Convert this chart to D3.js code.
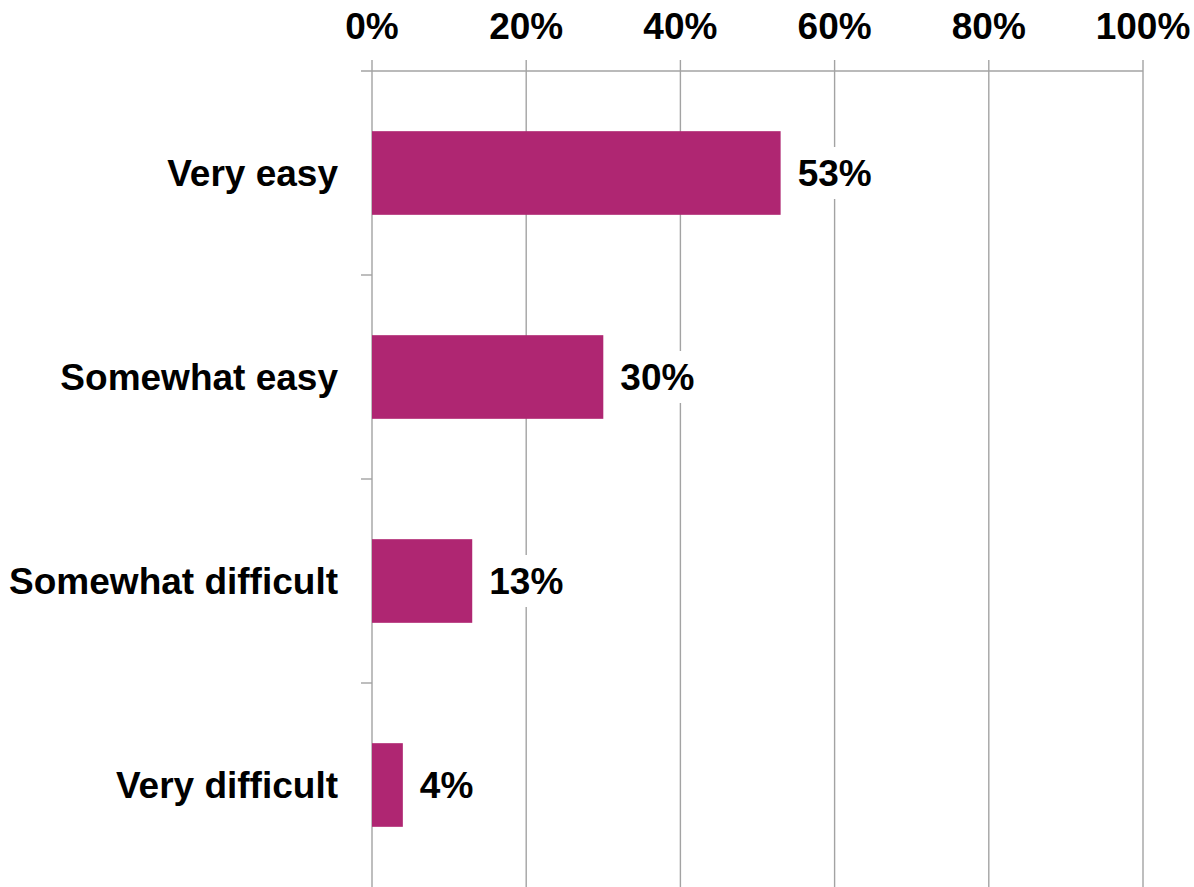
<!DOCTYPE html>
<html>
<head>
<meta charset="utf-8">
<script src="https://cdn.jsdelivr.net/npm/d3@7"></script>
<style>
  html, body { margin: 0; padding: 0; background: #fff; }
  svg { display: block; }
  text { font-family: "Liberation Sans", Arial, sans-serif; font-weight: bold; fill: #000; }
</style>
</head>
<body>
<svg id="chart" width="1194" height="887"></svg>
<script>
const categories = ["Very easy", "Somewhat easy", "Somewhat difficult", "Very difficult"];
const values = [53, 30, 13, 4];
const tickValues = [0, 20, 40, 60, 80, 100];

const W = 1194, H = 887;
const margin = { top: 71, right: 51, bottom: 0, left: 372 };
const barColor = "#af2672";
const gridColor = "#a3a3a3";
const fontSize = 37;

const svg = d3.select("#chart");

const x = d3.scaleLinear().domain([0, 100]).range([margin.left, W - margin.right]);
const y = d3.scaleBand().domain(categories).range([margin.top, H - margin.bottom])
  .paddingInner(0.59).paddingOuter(0.295);

// vertical gridlines
svg.append("g").selectAll("line").data(tickValues).join("line")
  .attr("x1", d => x(d)).attr("x2", d => x(d))
  .attr("y1", margin.top - 11).attr("y2", H)
  .attr("stroke", gridColor).attr("stroke-width", 1.4);

// top axis line
svg.append("line")
  .attr("x1", margin.left - 11).attr("x2", x(100))
  .attr("y1", margin.top).attr("y2", margin.top)
  .attr("stroke", gridColor).attr("stroke-width", 1.4);

// category boundary ticks on the left axis
const bounds = d3.range(1, categories.length).map(i => margin.top + i * (H - margin.top) / categories.length);
svg.append("g").selectAll("line").data(bounds).join("line")
  .attr("x1", margin.left - 11).attr("x2", margin.left)
  .attr("y1", d => d).attr("y2", d => d)
  .attr("stroke", gridColor).attr("stroke-width", 1.4);

// top tick labels
svg.append("g").selectAll("text").data(tickValues).join("text")
  .attr("x", d => x(d)).attr("y", 39)
  .attr("text-anchor", "middle")
  .style("font-size", fontSize + "px")
  .text(d => d + "%");

// bars
svg.append("g").selectAll("rect").data(values).join("rect")
  .attr("x", x(0))
  .attr("y", (d, i) => y(categories[i]))
  .attr("width", d => x(d) - x(0))
  .attr("height", y.bandwidth())
  .attr("fill", barColor);

// category labels
svg.append("g").selectAll("text").data(categories).join("text")
  .attr("x", 338)
  .attr("y", d => y(d) + y.bandwidth() / 2 + 13)
  .attr("text-anchor", "end")
  .style("font-size", fontSize + "px")
  .text(d => d);

// value labels with white backing
const lbl = svg.append("g").selectAll("g").data(values).join("g")
  .attr("transform", (d, i) => `translate(${x(d) + 17},${y(categories[i]) + y.bandwidth() / 2})`);
lbl.append("rect")
  .attr("x", -4).attr("y", -26).attr("height", 52)
  .attr("width", d => (String(d).length * 0.556 + 0.889) * fontSize + 8)
  .attr("fill", "#fff");
lbl.append("text")
  .attr("x", 0).attr("y", 13)
  .style("font-size", fontSize + "px")
  .text(d => d + "%");
</script>
</body>
</html>
